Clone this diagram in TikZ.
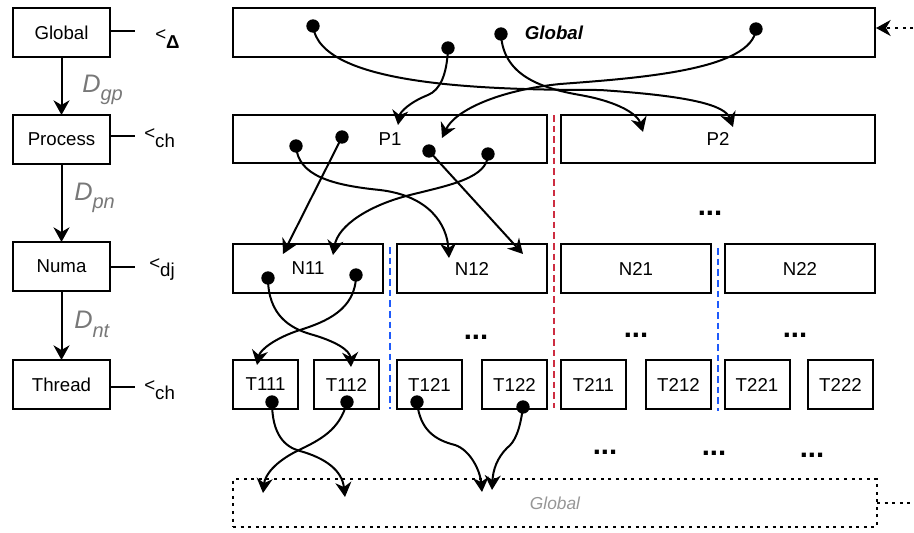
\documentclass[tikz,border=0pt]{standalone}
\usepackage{fontspec}
\setmainfont{Liberation Sans}
\usetikzlibrary{arrows.meta}
\definecolor{dimgray}{RGB}{120,120,120}
\definecolor{softgray}{RGB}{150,150,150}
\definecolor{divred}{RGB}{205,45,65}
\definecolor{divblue}{RGB}{30,90,250}

\begin{document}
\begin{tikzpicture}[x=0.75pt,y=-0.75pt,
  box/.style={draw, line width=1.5pt, inner sep=0pt, outer sep=0pt,
    font=\fontsize{14}{16}\selectfont},
  lbox/.style={box, minimum width=72.75pt, minimum height=36.75pt},
  tbox/.style={box, minimum width=48.75pt, minimum height=36.75pt},
  nbox/.style={box, minimum width=112.5pt, minimum height=36.75pt},
  pbox/.style={box, minimum width=235.5pt, minimum height=36pt},
  arr/.style={line width=1.5pt, -{Stealth[length=11pt,width=12pt,inset=3.5pt]}},
  dotnode/.style={circle, fill, inner sep=0pt, minimum size=10pt},
  ell/.style={font=\fontsize{22}{24}\selectfont\bfseries, inner sep=0pt},
  rel/.style={anchor=base west, inner sep=0pt, font=\fontsize{14}{16}\selectfont},
  dlab/.style={anchor=base west, inner sep=0pt, text=dimgray,
    font=\fontsize{19}{21}\selectfont\itshape},
  divider/.style={line width=1.5pt, dash pattern=on 5pt off 3pt},
  dotline/.style={line width=1.4pt, dash pattern=on 2.2pt off 3.5pt},
]
\useasboundingbox (0,0) rectangle (914,532);

% ---- level legend on the left ----
\node[lbox] (lglob) at (61.5,32.5) {Global};
\node[lbox] (lproc) at (61.5,139.5) {Process};
\node[lbox] (lnuma) at (61.5,266.5) {Numa};
\node[lbox] (lthr)  at (61.5,384.5) {Thread};

\draw[arr] (lglob) -- (lproc);
\draw[arr] (lproc) -- (lnuma);
\draw[arr] (lnuma) -- (lthr);

\node[dlab] (dgp) at (82,92)  {D\raisebox{-6pt}{\fontsize{15}{17}\selectfont gp}};
\node[dlab] (dpn) at (74,200) {D\raisebox{-6pt}{\fontsize{15}{17}\selectfont pn}};
\node[dlab] (dnt) at (74,328) {D\raisebox{-7pt}{\fontsize{15}{17}\selectfont nt}};

\coordinate (eg) at (135,31);
\coordinate (ep) at (135,136);
\coordinate (en) at (135,267);
\coordinate (et) at (135,387);
\draw[line width=1.5pt] (lglob.east |- eg) -- (eg);
\draw[line width=1.5pt] (lproc.east |- ep) -- (ep);
\draw[line width=1.5pt] (lnuma.east |- en) -- (en);
\draw[line width=1.5pt] (lthr.east |- et) -- (et);

\node[rel] (rg) at (155,48)  {\raisebox{6pt}{<}\textbf{Δ}};
\node[rel] (rp) at (144,147) {\raisebox{6pt}{<}ch};
\node[rel] (rn) at (149,276) {\raisebox{5pt}{<}dj};
\node[rel] (rt) at (144,399) {\raisebox{6pt}{<}ch};

% ---- hierarchy boxes ----
\node[box, minimum width=481.5pt, minimum height=36.75pt] (tglob) at (554,32.5)
  {\bfseries\itshape Global};

\node[pbox] (p1) at (390,139) {P1};
\node[pbox] (p2) at (718,139) {P2};

\node[nbox] (n11) at (308,268.5) {N11};
\node[nbox] (n12) at (472,268.5) {N12};
\node[nbox] (n21) at (636,268.5) {N21};
\node[nbox] (n22) at (800,268.5) {N22};

\node[tbox] (t111) at (265.5,384.5) {T111};
\node[tbox] (t112) at (346.5,384.5) {T112};
\node[tbox] (t121) at (429.5,384.5) {T121};
\node[tbox] (t122) at (514.5,384.5) {T122};
\node[tbox] (t211) at (593.5,384.5) {T211};
\node[tbox] (t212) at (678.5,384.5) {T212};
\node[tbox] (t221) at (757,384.5)   {T221};
\node[tbox] (t222) at (840.5,384.5) {T222};

\node[draw, dotline, inner sep=0pt, outer sep=0pt,
      minimum width=483pt, minimum height=36pt,
      text=softgray, font=\fontsize{13}{15}\selectfont\itshape]
  (bglob) at (555,503) {Global};

% ---- separators ----
\coordinate (rs1) at (553.5,115);
\coordinate (rs2) at (553.5,408);
\coordinate (bs1) at (390,247);
\coordinate (bs2) at (390,409);
\coordinate (bs3) at (718,248);
\coordinate (bs4) at (718,411);
\draw[divider, draw=divred]  (rs1) -- (rs2);
\draw[divider, draw=divblue] (bs1) -- (bs2);
\draw[divider, draw=divblue] (bs3) -- (bs4);

% ---- elided entries ----
\node[ell] (e1) at (710,213) {...};
\node[ell] (e2) at (476,337) {...};
\node[ell] (e3) at (636,335) {...};
\node[ell] (e4) at (795,335) {...};
\node[ell] (e5) at (605,452) {...};
\node[ell] (e6) at (714,453) {...};
\node[ell] (e7) at (812,455) {...};

% ---- feedback from the bottom global back to the top ----
\coordinate (fb1) at (935,503);
\coordinate (fb2) at (935,28);
\coordinate (fbtip) at (876,28);
\draw[dotline, -{Stealth[length=11pt,width=12pt,inset=3.5pt]}]
  (bglob.east) -- (fb1) -- (fb2) -- (fbtip);

% ---- data sources ----
\node[dotnode] (a) at (313,26) {};
\node[dotnode] (b) at (448,48) {};
\node[dotnode] (c) at (501,34) {};
\node[dotnode] (d) at (756,29) {};
\node[dotnode] (e) at (296,146) {};
\node[dotnode] (f) at (342,137) {};
\node[dotnode] (g) at (429,151) {};
\node[dotnode] (h) at (488,154) {};
\node[dotnode] (i) at (268,278) {};
\node[dotnode] (j) at (356,275) {};
\node[dotnode] (k) at (272,402) {};
\node[dotnode] (l) at (347,402) {};
\node[dotnode] (m) at (417,402) {};
\node[dotnode] (n) at (523,407) {};

% ---- arrow targets ----
\coordinate (ta) at (733,127);
\coordinate (tb) at (398,125);
\coordinate (tc) at (643,132);
\coordinate (td) at (442,138);
\coordinate (te) at (449,258);
\coordinate (tf) at (283,254);
\coordinate (tg) at (523,254);
\coordinate (th) at (333,255);
\coordinate (ti) at (351,367);
\coordinate (tj) at (257,365);
\coordinate (tk) at (345,497);
\coordinate (tl) at (263,493);
\coordinate (tm) at (482,492);
\coordinate (tn) at (492,490);

% global -> process
\draw[arr] (a.center) .. controls (320,85) and (480,90) .. (600,90)
  .. controls (690,96) and (725,105) .. (ta);
\draw[arr] (b.center) .. controls (447,75) and (440,90) .. (428,95)
  .. controls (410,102) and (400,112) .. (tb);
\draw[arr] (c.center) .. controls (503,75) and (540,88) .. (580,95)
  .. controls (620,102) and (638,115) .. (tc);
\draw[arr] (d.center) .. controls (752,70) and (640,78) .. (560,84)
  .. controls (500,90) and (455,110) .. (td);

% process -> numa
\draw[arr] (e.center) .. controls (298,175) and (330,185) .. (380,190)
  .. controls (430,196) and (447,225) .. (te);
\draw[arr] (f.center) -- (tf);
\draw[arr] (g.center) -- (tg);
\draw[arr] (h.center) .. controls (488,178) and (450,185) .. (410,195)
  .. controls (370,205) and (338,225) .. (th);

% numa -> thread
\draw[arr] (i.center) .. controls (268,315) and (290,328) .. (310,334)
  .. controls (335,341) and (350,350) .. (ti);
\draw[arr] (j.center) .. controls (356,310) and (325,322) .. (300,330)
  .. controls (275,338) and (260,350) .. (tj);

% thread -> global
\draw[arr] (k.center) .. controls (272,435) and (285,447) .. (300,451)
  .. controls (325,458) and (342,470) .. (tk);
\draw[arr] (l.center) .. controls (340,430) and (320,440) .. (297,451)
  .. controls (275,462) and (265,475) .. (tl);
\draw[arr] (m.center) .. controls (420,430) and (435,440) .. (455,445)
  .. controls (470,450) and (480,470) .. (tm);
\draw[arr] (n.center) .. controls (520,430) and (515,442) .. (507,448)
  .. controls (497,458) and (493,470) .. (tn);
\end{tikzpicture}
\end{document}
